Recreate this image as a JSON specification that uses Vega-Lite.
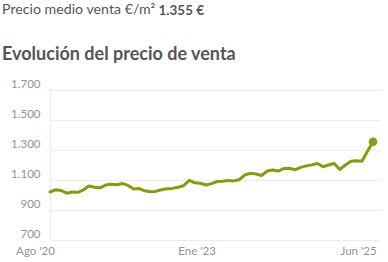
{
  "$schema": "https://vega.github.io/schema/vega-lite/v6.json",
  "autosize": {"type": "none"},
  "padding": {"left": 50, "top": 90, "right": 8, "bottom": 22},
  "width": 330,
  "height": 150,
  "background": "#ffffff",
  "title": {
    "text": "Precio medio venta €/m²",
    "subtitle": "Evolución del precio de venta",
    "anchor": "start",
    "frame": "group",
    "dx": -48,
    "offset": -60.5,
    "font": "Lato",
    "fontSize": 14.2,
    "fontWeight": "normal",
    "color": "#555555",
    "subtitleFont": "Lato",
    "subtitleFontSize": 18,
    "subtitleFontWeight": "bold",
    "subtitleColor": "#555555",
    "subtitlePadding": 28
  },
  "data": {
    "values": [
      {"date": "2020-08-01", "precio": 1020},
      {"date": "2020-09-01", "precio": 1035},
      {"date": "2020-10-01", "precio": 1030},
      {"date": "2020-11-01", "precio": 1012},
      {"date": "2020-12-01", "precio": 1020},
      {"date": "2021-01-01", "precio": 1018},
      {"date": "2021-02-01", "precio": 1035},
      {"date": "2021-03-01", "precio": 1060},
      {"date": "2021-04-01", "precio": 1052},
      {"date": "2021-05-01", "precio": 1048},
      {"date": "2021-06-01", "precio": 1066},
      {"date": "2021-07-01", "precio": 1072},
      {"date": "2021-08-01", "precio": 1068},
      {"date": "2021-09-01", "precio": 1077},
      {"date": "2021-10-01", "precio": 1064},
      {"date": "2021-11-01", "precio": 1040},
      {"date": "2021-12-01", "precio": 1043},
      {"date": "2022-01-01", "precio": 1028},
      {"date": "2022-02-01", "precio": 1022},
      {"date": "2022-03-01", "precio": 1024},
      {"date": "2022-04-01", "precio": 1035},
      {"date": "2022-05-01", "precio": 1041},
      {"date": "2022-06-01", "precio": 1044},
      {"date": "2022-07-01", "precio": 1052},
      {"date": "2022-08-01", "precio": 1062},
      {"date": "2022-09-01", "precio": 1098},
      {"date": "2022-10-01", "precio": 1081},
      {"date": "2022-11-01", "precio": 1078},
      {"date": "2022-12-01", "precio": 1067},
      {"date": "2023-01-01", "precio": 1076},
      {"date": "2023-02-01", "precio": 1090},
      {"date": "2023-03-01", "precio": 1092},
      {"date": "2023-04-01", "precio": 1096},
      {"date": "2023-05-01", "precio": 1094},
      {"date": "2023-06-01", "precio": 1102},
      {"date": "2023-07-01", "precio": 1133},
      {"date": "2023-08-01", "precio": 1145},
      {"date": "2023-09-01", "precio": 1140},
      {"date": "2023-10-01", "precio": 1130},
      {"date": "2023-11-01", "precio": 1160},
      {"date": "2023-12-01", "precio": 1166},
      {"date": "2024-01-01", "precio": 1160},
      {"date": "2024-02-01", "precio": 1177},
      {"date": "2024-03-01", "precio": 1178},
      {"date": "2024-04-01", "precio": 1168},
      {"date": "2024-05-01", "precio": 1184},
      {"date": "2024-06-01", "precio": 1194},
      {"date": "2024-07-01", "precio": 1201},
      {"date": "2024-08-01", "precio": 1210},
      {"date": "2024-09-01", "precio": 1188},
      {"date": "2024-10-01", "precio": 1200},
      {"date": "2024-11-01", "precio": 1210},
      {"date": "2024-12-01", "precio": 1170},
      {"date": "2025-01-01", "precio": 1200},
      {"date": "2025-02-01", "precio": 1225},
      {"date": "2025-03-01", "precio": 1228},
      {"date": "2025-04-01", "precio": 1225},
      {"date": "2025-05-01", "precio": 1290},
      {"date": "2025-06-01", "precio": 1355}
    ]
  },
  "encoding": {
    "x": {
      "field": "date",
      "type": "temporal",
      "scale": {"type": "utc", "domain": ["2020-08-01", "2025-07-09"], "nice": false},
      "axis": {
        "title": null,
        "values": [
          {"year": 2020, "month": 8, "date": 1, "utc": true},
          {"year": 2023, "month": 1, "date": 1, "utc": true},
          {"year": 2025, "month": 6, "date": 1, "utc": true}
        ],
        "labelExpr": "['Ene','Feb','Mar','Abr','May','Jun','Jul','Ago','Sep','Oct','Nov','Dic'][utcmonth(datum.value)] + \" '\" + utcFormat(datum.value, '%y')",
        "grid": false,
        "domain": false,
        "ticks": false,
        "labelPadding": 5,
        "labelOffset": -15,
        "labelFont": "Lato",
        "labelFontSize": 11.5,
        "labelColor": "#8c93a1",
        "labelFlush": false,
        "labelOverlap": false
      }
    },
    "y": {
      "field": "precio",
      "type": "quantitative",
      "scale": {"domain": [700, 1700], "nice": false, "zero": false},
      "axis": {
        "title": "1.355 €",
        "titleAngle": 0,
        "titleAlign": "left",
        "titleBaseline": "middle",
        "titleX": 108,
        "titleY": -80,
        "titleFont": "Lato",
        "titleFontSize": 13.5,
        "titleFontWeight": "bold",
        "titleColor": "#555555",
        "values": [700, 900, 1100, 1300, 1500, 1700],
        "labelExpr": "replace(format(datum.value, ','), ',', '.')",
        "grid": true,
        "gridColor": "#ececec",
        "gridWidth": 1,
        "domain": true,
        "domainColor": "#ececec",
        "ticks": false,
        "labelPadding": 10,
        "labelBaseline": "middle",
        "labelOffset": -6,
        "labelFont": "Lato",
        "labelFontSize": 11.5,
        "labelColor": "#8c93a1"
      }
    }
  },
  "layer": [
    {
      "mark": {"type": "line", "color": "#8a9a0a", "strokeWidth": 3, "strokeJoin": "round", "strokeCap": "round"}
    },
    {
      "transform": [{"filter": "time(datum.date) == utc(2025, 5, 1)"}],
      "mark": {"type": "point", "filled": true, "opacity": 1, "color": "#8a9a0a", "size": 75}
    }
  ],
  "config": {"view": {"stroke": null}}
}
